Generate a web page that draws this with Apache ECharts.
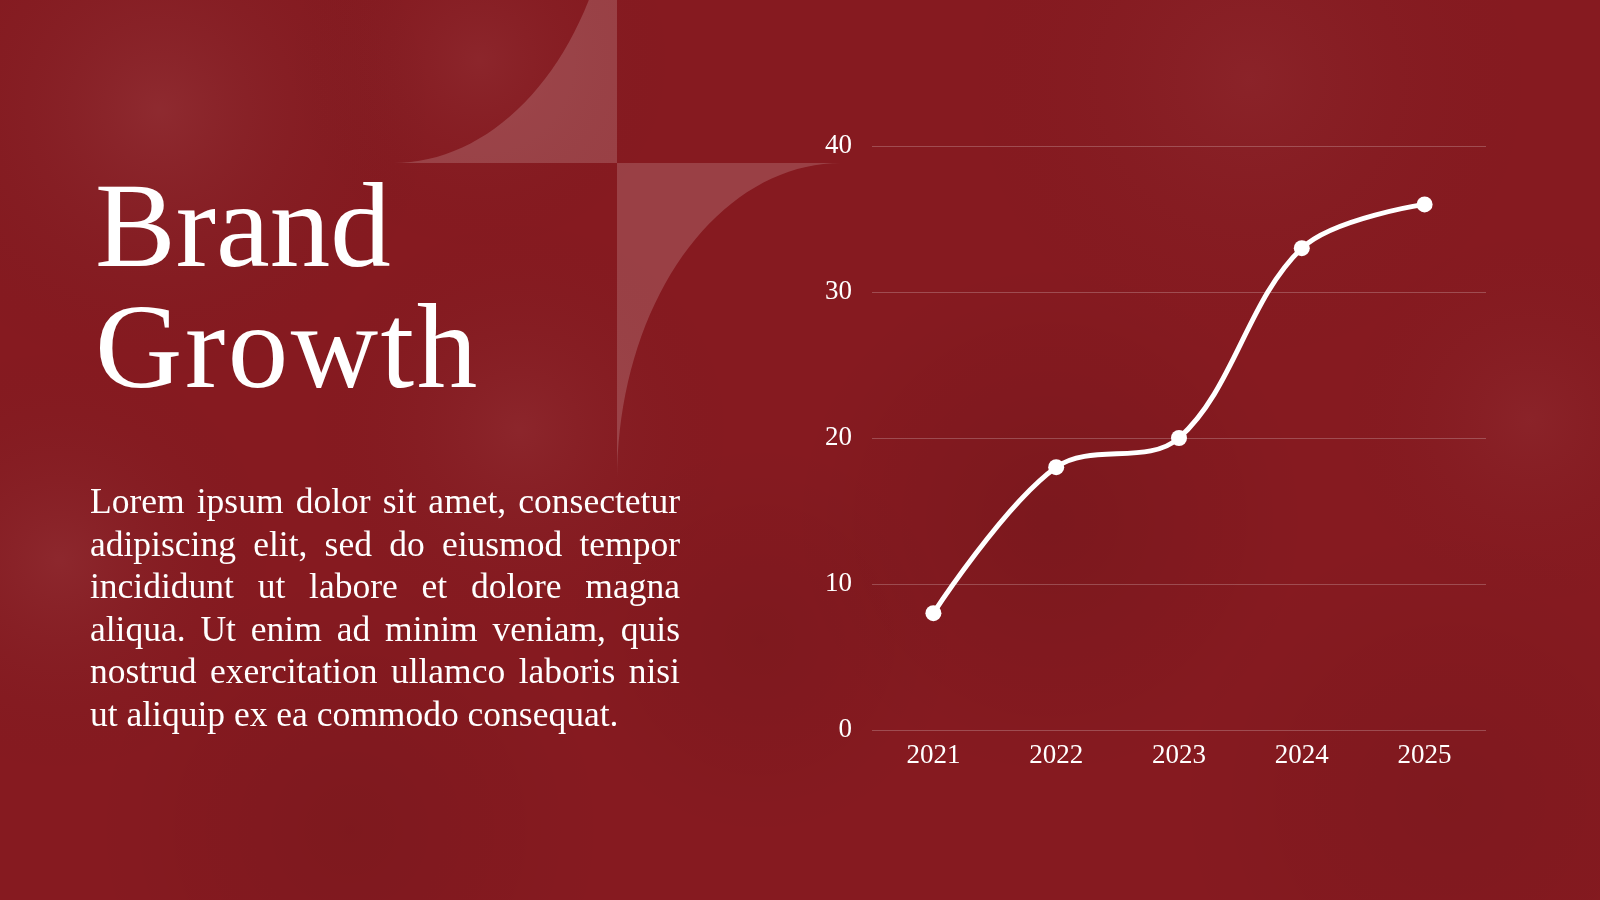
<!DOCTYPE html>
<html>
<head>
<meta charset="utf-8">
<title>Brand Growth</title>
<script src="https://cdn.jsdelivr.net/npm/echarts@6/dist/echarts.min.js"></script>
<style>
  html, body { margin: 0; padding: 0; width: 1600px; height: 900px; overflow: hidden; background: #861a20; }
  #chart { position: absolute; left: 0; top: 0; width: 1600px; height: 900px; }
  .title {
    position: absolute; left: 95px; top: 165px;
    font-family: 'Liberation Serif', serif; font-size: 121px; line-height: 121px;
    color: #fff; white-space: nowrap;
  }
  .title span { letter-spacing: 2.5px; }
  .body {
    position: absolute; left: 90px; top: 480px; width: 590px;
    font-family: 'Liberation Serif', serif; font-size: 35.5px; line-height: 42.5px;
    color: #fff;
  }
  .body div { text-align: justify; text-align-last: justify; white-space: nowrap; }
  .body div.last { text-align: left; text-align-last: left; }
</style>
</head>
<body>
<div id="chart"></div>
<div class="title">Brand<br><span>Growth</span></div>
<div class="body">
  <div>Lorem ipsum dolor sit amet, consectetur</div>
  <div>adipiscing elit, sed do eiusmod tempor</div>
  <div>incididunt ut labore et dolore magna</div>
  <div>aliqua. Ut enim ad minim veniam, quis</div>
  <div>nostrud exercitation ullamco laboris nisi</div>
  <div class="last">ut aliquip ex ea commodo consequat.</div>
</div>
<script>
// chart data
const years = ['2021', '2022', '2023', '2024', '2025']
const growth = [8, 18, 20, 33, 36]
const yTicks = { min: 0, max: 40, step: 10 }

const chartDom = echarts.init(document.getElementById('chart'))

// soft blotches to hint at the crumpled plastic texture behind
function blob(cx, cy, r, color) {
  return {
    type: 'circle', silent: true, z: -10,
    shape: { cx: cx, cy: cy, r: r },
    style: {
      fill: {
        type: 'radial', x: 0.5, y: 0.5, r: 0.5,
        colorStops: [
          { offset: 0, color: color },
          { offset: 1, color: 'rgba(0,0,0,0)' }
        ]
      }
    }
  }
}

// one quarter of the four point star: the corner, then along
// the concave edge from one tip to the other
function starQuarter(cx, cy, rx, ry, sx, sy) {
  const pts = [[cx, cy]]
  const ox = cx + sx * rx, oy = cy + sy * ry
  for (let i = 0; i <= 40; i++) {
    const t = i / 40 * Math.PI / 2
    pts.push([ox - sx * rx * Math.sin(t), oy - sy * ry * Math.cos(t)])
  }
  return pts
}

chartDom.setOption({
  backgroundColor: '#861a20',
  animation: false,
  graphic: [
    blob(160, 110, 280, 'rgba(255,255,255,0.07)'),
    blob(480, 60, 200, 'rgba(255,255,255,0.05)'),
    blob(520, 430, 220, 'rgba(255,255,255,0.05)'),
    blob(60, 560, 220, 'rgba(255,255,255,0.06)'),
    blob(1250, 80, 300, 'rgba(255,255,255,0.04)'),
    blob(1530, 420, 200, 'rgba(255,255,255,0.04)'),
    blob(1050, 520, 260, 'rgba(0,0,0,0.08)'),
    blob(760, 640, 200, 'rgba(0,0,0,0.06)'),
    blob(350, 830, 260, 'rgba(0,0,0,0.06)'),
    blob(1450, 800, 280, 'rgba(0,0,0,0.05)'),
    {
      type: 'polygon', silent: true, z: -5,
      shape: { points: starQuarter(617, 163, 224, 317, -1, -1) },
      style: { fill: 'rgba(255,255,255,0.17)' }
    },
    {
      type: 'polygon', silent: true, z: -5,
      shape: { points: starQuarter(617, 163, 224, 317, 1, 1) },
      style: { fill: 'rgba(255,255,255,0.17)' }
    }
  ],
  grid: {
    left: 872,
    right: 114,
    top: 146,
    bottom: 170
  },
  xAxis: {
    type: 'category',
    data: years,
    boundaryGap: true,
    axisLine: { show: false },
    axisTick: { show: false },
    axisLabel: {
      color: '#fff',
      fontFamily: 'Liberation Serif',
      fontSize: 27,
      margin: 12
    }
  },
  yAxis: {
    type: 'value',
    min: yTicks.min,
    max: yTicks.max,
    interval: yTicks.step,
    axisLine: { show: false },
    axisTick: { show: false },
    axisLabel: {
      color: '#fff',
      fontFamily: 'Liberation Serif',
      fontSize: 27,
      margin: 20
    },
    splitLine: {
      lineStyle: { color: 'rgba(255,255,255,0.22)', width: 1 }
    }
  },
  series: [
    {
      type: 'line',
      data: growth,
      smooth: 0.35,
      symbol: 'circle',
      symbolSize: 16,
      showAllSymbol: true,
      lineStyle: { color: '#fff', width: 5 },
      itemStyle: { color: '#fff' }
    }
  ]
})
</script>
</body>
</html>
